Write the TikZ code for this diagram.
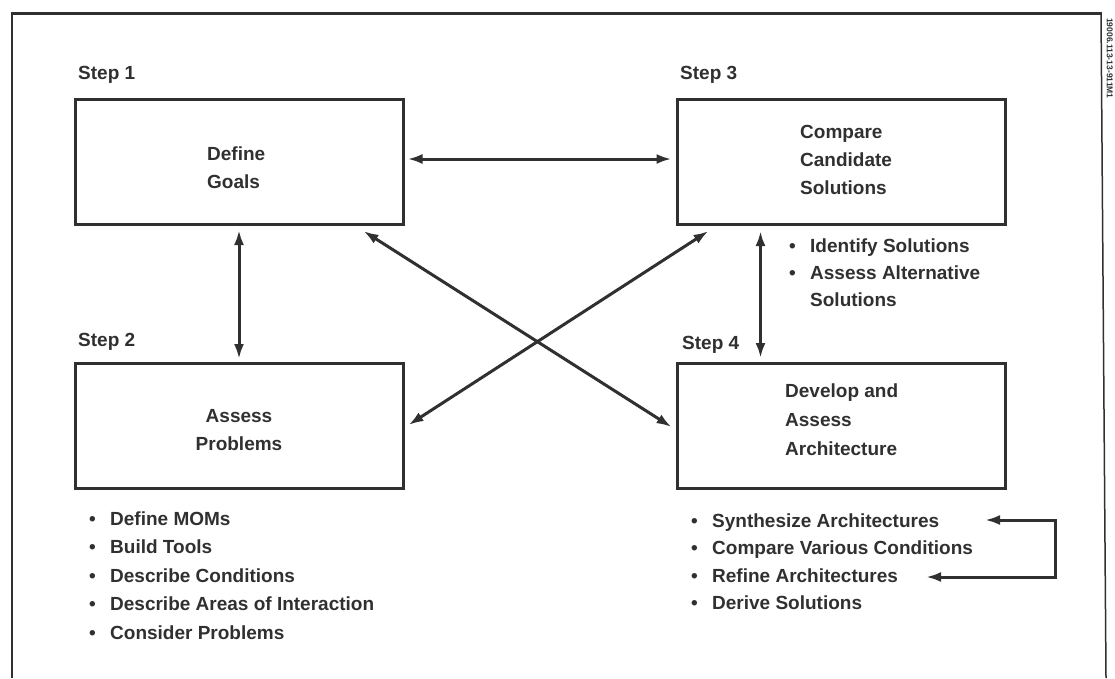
\documentclass[tikz,border=0pt]{standalone}
\usepackage{fontspec}
\setmainfont{Liberation Sans}
\usetikzlibrary{arrows.meta}
\definecolor{ink}{HTML}{303030}
\newcommand{\bul}{\makebox[21pt][l]{\textbullet}}
\begin{document}
\begin{tikzpicture}[x=1pt,y=-1pt,
  stepbox/.style={draw=ink,line width=3pt,minimum width=328pt,minimum height=125pt,inner sep=0pt},
  txt/.style={text=ink,font=\bfseries\fontsize{19}{26}\selectfont,inner sep=0pt,anchor=base west},
  ctxt/.style={txt,anchor=base},
  link/.style={draw=ink,line width=3pt,{Latex[length=15pt,width=10pt]}-{Latex[length=15pt,width=10pt]}},
  framel/.style={draw=ink,line width=2pt}]
\useasboundingbox (0,0) rectangle (1115,678);
% frame
\draw[framel,line width=3pt] (11,13) -- (1101,13);
\draw[framel] (12,12) -- (12,678);
\draw[framel,line width=1.5pt] (1101,12) -- (1106,678);
\node[rotate=-90,anchor=north west,inner sep=0pt,text=ink,font=\bfseries\fontsize{8.5}{9}\selectfont] (scanid) at (1113,18) {19006.113-13-911M1};
% boxes
\node[stepbox] (b1) at (239,162) {};
\node[stepbox] (b3) at (841,162) {};
\node[stepbox] (b2) at (239,426) {};
\node[stepbox] (b4) at (841,426) {};
% step labels
\node[txt] (s1) at (78,79) {Step 1};
\node[txt] (s3) at (680,79) {Step 3};
\node[txt] (s2) at (78,346) {Step 2};
\node[txt] (s4) at (682,349) {Step 4};
% box texts
\node[txt] (t1a) at (207,160) {Define};
\node[txt] (t1b) at (207,188) {Goals};
\node[txt] (t3a) at (800,138) {Compare};
\node[txt] (t3b) at (800,166) {Candidate};
\node[txt] (t3c) at (800,194) {Solutions};
\node[ctxt] (t2a) at (239,422) {Assess};
\node[ctxt] (t2b) at (239,450) {Problems};
\node[txt] (t4a) at (785,397) {Develop and};
\node[txt] (t4b) at (785,426) {Assess};
\node[txt] (t4c) at (785,455) {Architecture};
% lists
\node[txt] (l3a) at (789,252) {\bul Identify Solutions};
\node[txt] (l3b) at (789,279) {\bul Assess Alternative};
\node[txt] (l3c) at (810,306) {Solutions};
\node[txt] (l2a) at (89,525) {\bul Define MOMs};
\node[txt] (l2b) at (89,553.5) {\bul Build Tools};
\node[txt] (l2c) at (89,582) {\bul Describe Conditions};
\node[txt] (l2d) at (89,610.5) {\bul Describe Areas of Interaction};
\node[txt] (l2e) at (89,639) {\bul Consider Problems};
\node[txt] (l4a) at (691,527) {\bul Synthesize Architectures};
\node[txt] (l4b) at (691,554.5) {\bul Compare Various Conditions};
\node[txt] (l4c) at (691,582) {\bul Refine Architectures};
\node[txt] (l4d) at (691,609.5) {\bul Derive Solutions};
% connectors
\draw[link] ([xshift=3pt,yshift=3pt]b1.east) -- ([xshift=-4pt,yshift=3pt]b3.west);
\draw[link] ([yshift=-4pt]b1.south) -- ([yshift=3pt]b2.north);
\draw[link] ([shift={(85,5)}]b3.south west) -- ([shift={(85,-4)}]b4.north west);
\draw[link] ([shift={(-41,5)}]b1.south east) -- ([shift={(-4,1)}]b4.west);
\draw[link] ([shift={(33,5)}]b3.south west) -- ([shift={(4,-1)}]b2.east);
% feedback loop
\coordinate (fbin) at (985,520);
\coordinate (fbout) at (926,577);
\draw[link] (fbin) -- (1055,520) -- (1055,577) -- (fbout);
\end{tikzpicture}
\end{document}
